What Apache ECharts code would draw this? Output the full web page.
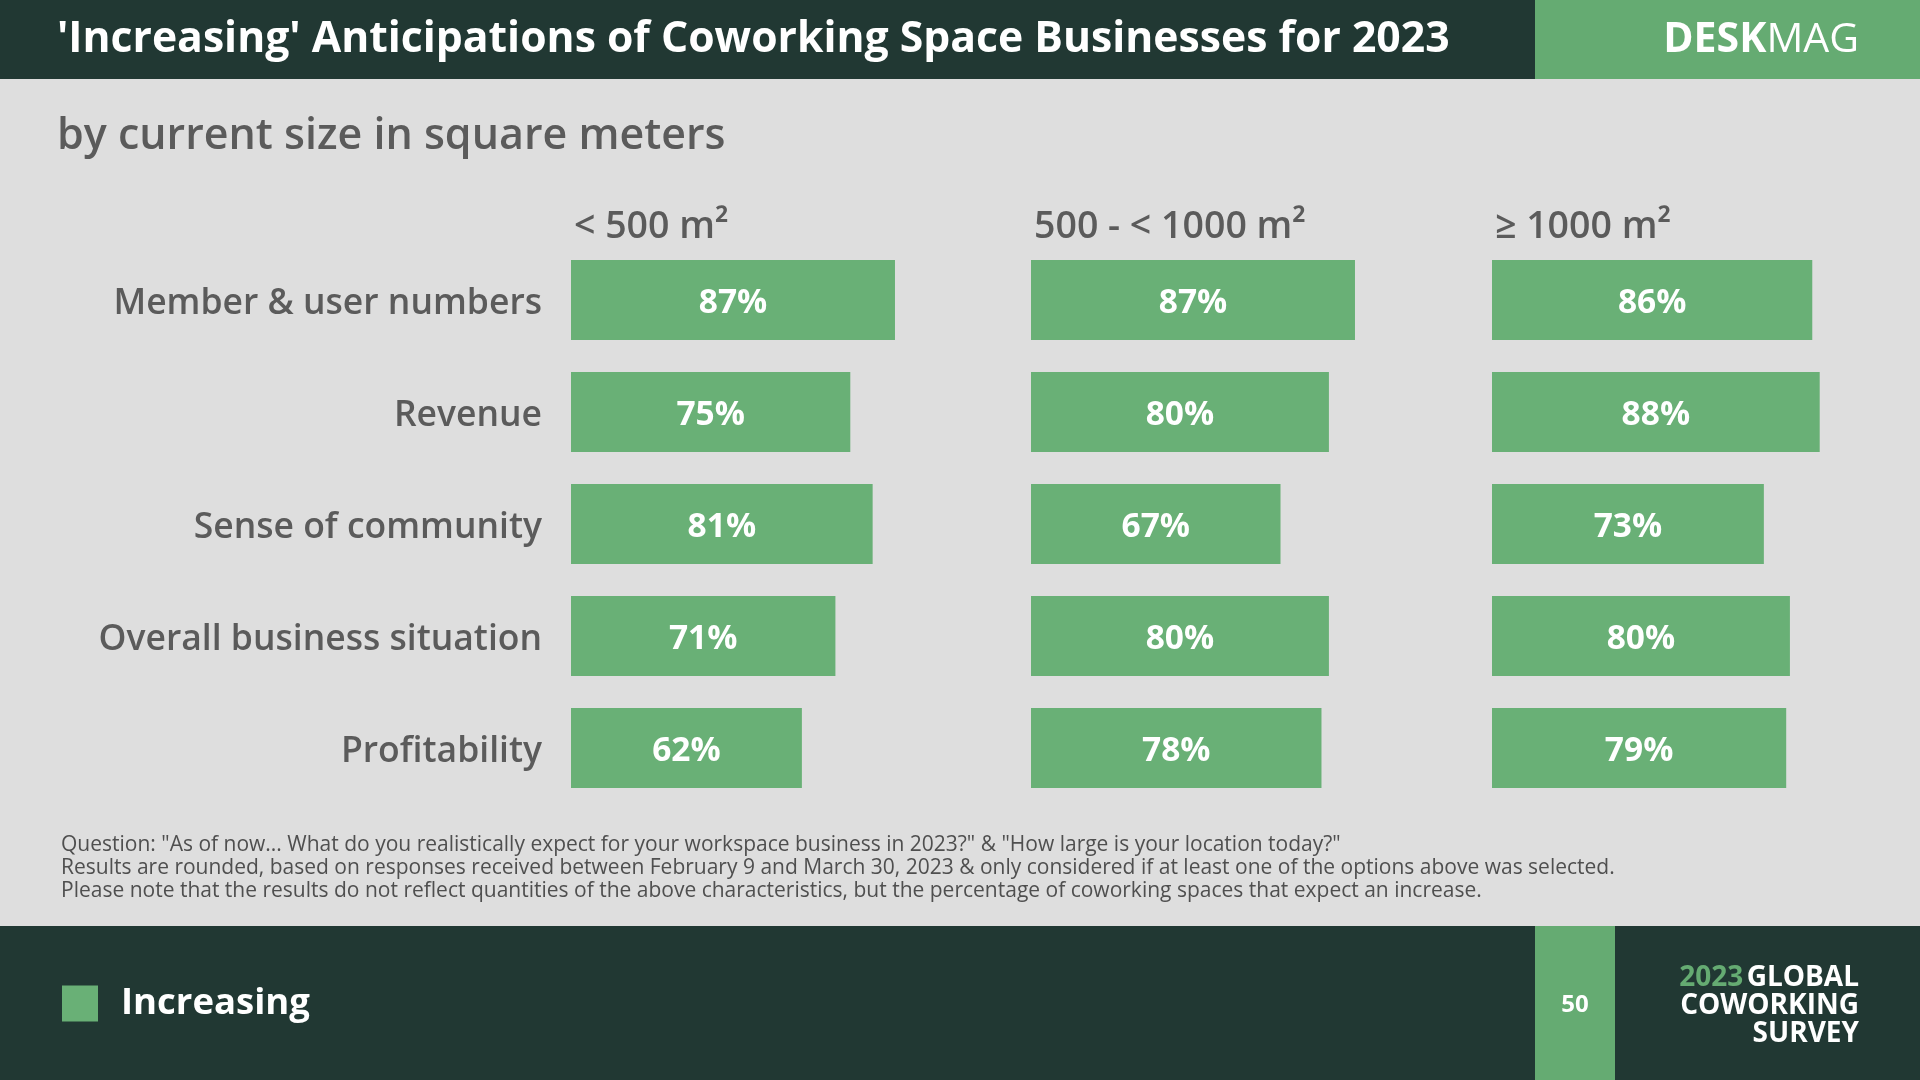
<!DOCTYPE html>
<html>
<head>
<meta charset="utf-8">
<script src="https://cdn.jsdelivr.net/npm/echarts@6/dist/echarts.min.js"></script>
<style>
html,body{margin:0;padding:0;background:#dedede;}
#c{width:1920px;height:1080px;}
</style>
</head>
<body>
<div id="c"></div>
<script>
const categories = ['Member & user numbers','Revenue','Sense of community','Overall business situation','Profitability'];
const groups = ['< 500 m²','500 - < 1000 m²','≥ 1000 m²'];
const small = [87,75,81,71,62];
const medium = [87,80,67,80,78];
const large = [86,88,73,80,79];
const seriesValues = [small, medium, large];
const seriesName = 'Increasing';
const titleText = "'Increasing' Anticipations of Coworking Space Businesses for 2023";
const subtitleText = 'by current size in square meters';
const notes = [
 'Question: "As of now... What do you realistically expect for your workspace business in 2023?" & "How large is your location today?"',
 'Results are rounded, based on responses received between February 9 and March 30, 2023 & only considered if at least one of the options above was selected.',
 'Please note that the results do not reflect quantities of the above characteristics, but the percentage of coworking spaces that expect an increase.'
];

const FONT = '"Open Sans", "Noto Sans", sans-serif';
const DARK = '#213833';
const GREEN = '#65ab72';
const BAR = '#69b076';
const GRAY = '#5b5b5b';

const gridLefts = [571, 1031, 1492];
const gridW = 372.4;

const chart = echarts.init(document.getElementById('c'));

const grids = gridLefts.map(l => ({left: l, top: 244, width: gridW, height: 560}));
const xAxes = gridLefts.map((l, i) => ({gridIndex: i, type: 'value', min: 0, max: 100, show: false}));
const yAxes = gridLefts.map((l, i) => ({
  gridIndex: i, type: 'category', data: categories, inverse: true,
  axisLine: {show: false}, axisTick: {show: false}, splitLine: {show: false},
  axisLabel: {show: i === 0, margin: 29, fontSize: 35.5, color: GRAY, fontFamily: FONT, fontWeight: 600,
    formatter: v => '{a|' + v + '}', rich: {a: {fontSize: 35.5, color: GRAY, fontFamily: FONT, fontWeight: 600, padding: [8, 0, 0, 0]}}}
}));
const series = seriesValues.map((vals, i) => ({
  name: seriesName, type: 'bar', xAxisIndex: i, yAxisIndex: i, data: vals, barWidth: 80,
  itemStyle: {color: BAR},
  label: {show: true, position: 'inside', formatter: '{c}%', color: '#fff', fontSize: 33.5, fontWeight: 'bold', fontFamily: FONT, offset: [0, 3]},
  silent: true
}));

const graphics = [
  {type: 'rect', shape: {x: 0, y: 0, width: 1535, height: 79}, style: {fill: DARK}},
  {type: 'rect', shape: {x: 1535, y: 0, width: 385, height: 79}, style: {fill: GREEN}},
  {type: 'rect', shape: {x: 0, y: 926, width: 1920, height: 154}, style: {fill: DARK}},
  {type: 'rect', shape: {x: 1535, y: 926, width: 80, height: 154}, style: {fill: GREEN}},
  {type: 'text', x: 57, y: 40, style: {text: titleText, fill: '#fff', font: 'bold 42.7px ' + FONT, textVerticalAlign: 'middle'}},
  {type: 'text', x: 1859, y: 40, style: {
    text: '{b|DESK}{r|MAG}', align: 'right', verticalAlign: 'middle',
    rich: {b: {fill: '#fff', font: 'bold 41px ' + FONT}, r: {fill: '#fff', font: '41px ' + FONT}}}},
  {type: 'text', x: 57, y: 137, style: {text: subtitleText, fill: GRAY, font: '600 43px ' + FONT, textVerticalAlign: 'middle'}},
  {type: 'text', x: 1575, y: 1005, style: {text: '50', fill: '#fff', font: 'bold 24px ' + FONT, align: 'center', verticalAlign: 'middle'}},
  {type: 'text', x: 1859, y: 978, style: {
    text: '{g|2023} {w|GLOBAL}', align: 'right', verticalAlign: 'middle',
    rich: {g: {fill: GREEN, font: 'bold 28px ' + FONT}, w: {fill: '#fff', font: 'bold 28px ' + FONT}}}},
  {type: 'text', x: 1859, y: 1006, style: {text: 'COWORKING', fill: '#fff', font: 'bold 28px ' + FONT, align: 'right', verticalAlign: 'middle'}},
  {type: 'text', x: 1859, y: 1034, style: {text: 'SURVEY', fill: '#fff', font: 'bold 28px ' + FONT, align: 'right', verticalAlign: 'middle'}}
];
groups.forEach((g, i) => {
  graphics.push({type: 'text', x: gridLefts[i] + 3, y: 227, style: {text: g, fill: GRAY, font: '600 37.5px ' + FONT, textVerticalAlign: 'middle'}});
});
notes.forEach((n, i) => {
  graphics.push({type: 'text', x: 61, y: 845 + i * 23, style: {text: n, fill: '#4f4f4f', font: '21px ' + FONT, textVerticalAlign: 'middle'}});
});

chart.setOption({
  backgroundColor: '#dedede',
  animation: false,
  grid: grids,
  xAxis: xAxes,
  yAxis: yAxes,
  legend: {
    data: [seriesName], left: 62, top: 985, padding: 0, itemWidth: 36, itemHeight: 36, itemGap: 10,
    icon: 'rect', selectedMode: false,
    textStyle: {color: '#fff', fontSize: 36.5, fontWeight: 'bold', fontFamily: FONT, padding: [7, 0, 0, 18]}
  },
  series: series,
  graphic: graphics
});
</script>
</body>
</html>
